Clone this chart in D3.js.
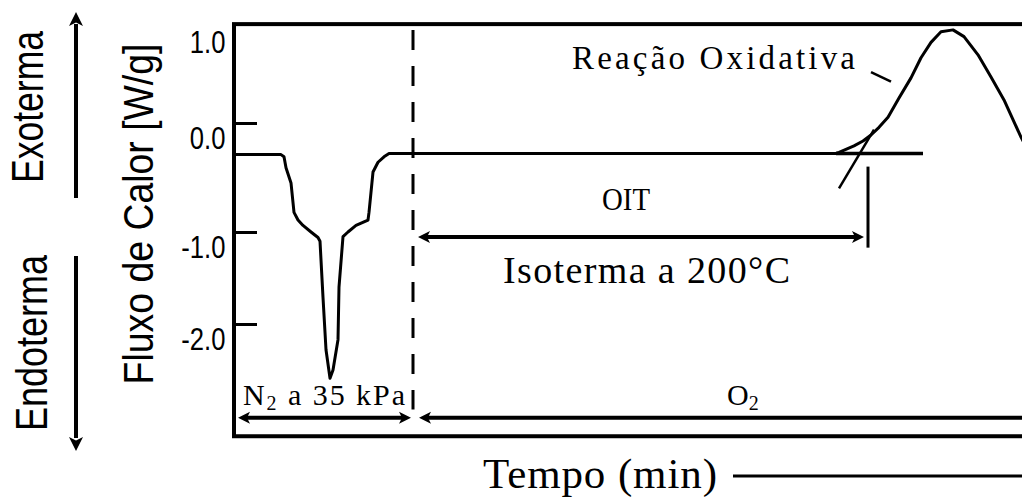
<!DOCTYPE html>
<html>
<head>
<meta charset="utf-8">
<script src="https://cdn.jsdelivr.net/npm/d3@7"></script>
<style>
  html, body { margin: 0; padding: 0; background: #fff; }
  svg { display: block; }
</style>
</head>
<body>
<svg id="chart" width="1022" height="499"></svg>
<script>
// ---- data (time in min, heat flow in W/g) ----
const dscTime = [0, 4.7, 5.0, 5.2, 5.7, 6.0, 6.4, 6.9, 7.7, 8.4, 8.6, 8.9, 9.2, 9.6, 9.9, 10.4, 10.5, 10.9, 11.4, 12.2, 13.4, 13.5, 13.9, 14.4, 15.0, 15.5,
                 60.2, 60.5, 62.0, 62.9, 63.7, 64.5, 65.4, 66.5, 67.7, 68.7, 69.7, 70.7, 71.9, 73.0, 74.4, 75.7, 77.0, 78.7, 80.2];
const dscFlow = [-0.29, -0.29, -0.31, -0.41, -0.55, -0.82, -0.89, -0.94, -1.0, -1.06, -1.1, -1.71, -2.28, -2.59, -2.50, -2.17, -1.60, -1.05, -1.0, -0.94, -0.89, -0.82, -0.45, -0.36, -0.31, -0.28,
                 -0.28, -0.27, -0.21, -0.165, -0.11, -0.04, 0.06, 0.26, 0.47, 0.68, 0.84, 0.95, 0.97, 0.90, 0.71, 0.48, 0.24, -0.13, -0.39];
const baselineExtTime = [60.2, 68.9];
const baselineExtFlow = [-0.28, -0.28];
const tangentTime = [60.5, 64.0];
const tangentFlow = [-0.60, -0.06];
const leaderTime = [63.7, 65.7];
const leaderFlow = [0.53, 0.43];
const oitMarkTime = 63.4;
const oitMarkFlow = [-0.40, -1.17];
const oitArrowTime = [18.4, 63.0];
const oitArrowFlow = -1.054;
const gasSwitchTime = 17.9;
const gasSwitchFlow = [0.97, -2.93];
const n2ArrowTime = [0.4, 17.7];
const o2ArrowTime = [18.5, 81];
const gasArrowFlow = -3.02;
const yTickValues = [1.0, 0.0, -1.0, -2.0];
const yTickLabels = ["1.0", "0.0", "-1.0", "-2.0"];
const frameTime = [0, 80];
const frameFlow = [1.03, -3.22];

// ---- scales ----
const x = d3.scaleLinear().domain([0, 80]).range([234, 1034]);
const y = d3.scaleLinear().domain([1, 0, -1, -2]).range([27, 123, 232, 324]);

const svg = d3.select("#chart");
svg.append("rect").attr("width", 1022).attr("height", 499).attr("fill", "#fff");

const serif = "'Liberation Serif', 'Times New Roman', serif";
const sans = "'Liberation Sans', Arial, sans-serif";

// ---- frame ----
svg.append("rect")
  .attr("x", x(frameTime[0])).attr("y", y(frameFlow[0]))
  .attr("width", x(frameTime[1]) - x(frameTime[0]))
  .attr("height", y(frameFlow[1]) - y(frameFlow[0]))
  .attr("fill", "none").attr("stroke", "#000").attr("stroke-width", 4);

// ---- y axis ticks (inside) ----
const yAxis = d3.axisLeft(y).tickValues(yTickValues)
  .tickSizeInner(-22).tickSizeOuter(0).tickPadding(9)
  .tickFormat((d, i) => yTickLabels[i]);
const gy = svg.append("g").attr("transform", `translate(${x(0) + 1},0)`).call(yAxis);
gy.select(".domain").remove();
gy.selectAll(".tick line").attr("stroke", "#000").attr("stroke-width", 3)
  .filter(d => d === 1).remove();
gy.selectAll(".tick text")
  .attr("font-family", sans).attr("font-size", 32).attr("fill", "#000")
  .attr("x", -12).attr("dy", 25)
  .attr("transform", "scale(0.8,1)");

// ---- arrow head helper ----
function head(tipX, tipY, dirX, dirY, len, half) {
  const bx = tipX - dirX * len, by = tipY - dirY * len;
  const px = -dirY * half, py = dirX * half;
  return `M${tipX},${tipY}L${bx + px},${by + py}L${bx + dirX * len * 0.25},${by + dirY * len * 0.25}L${bx - px},${by - py}Z`;
}

// ---- DSC curve ----
const line = d3.line().x(d => x(d[0])).y(d => y(d[1]));
svg.append("path").datum(dscTime.map((t, i) => [t, dscFlow[i]]))
  .attr("d", line).attr("fill", "none").attr("stroke", "#000")
  .attr("stroke-width", 3).attr("stroke-linejoin", "round");

// extrapolated baseline
svg.append("path").datum(baselineExtTime.map((t, i) => [t, baselineExtFlow[i]]))
  .attr("d", line).attr("fill", "none").attr("stroke", "#000").attr("stroke-width", 3.5);

// tangent
svg.append("path").datum(tangentTime.map((t, i) => [t, tangentFlow[i]]))
  .attr("d", line).attr("fill", "none").attr("stroke", "#000").attr("stroke-width", 2.5);

// leader line for label
svg.append("path").datum(leaderTime.map((t, i) => [t, leaderFlow[i]]))
  .attr("d", line).attr("fill", "none").attr("stroke", "#000").attr("stroke-width", 2.5);

// OIT marker
svg.append("line")
  .attr("x1", x(oitMarkTime)).attr("x2", x(oitMarkTime))
  .attr("y1", y(oitMarkFlow[0])).attr("y2", y(oitMarkFlow[1]))
  .attr("stroke", "#000").attr("stroke-width", 3);

// horizontal double/single arrows
function hArrow(t0, t1, v, leftHead, rightHead, w) {
  const yy = y(v), x0 = x(t0), x1 = x(t1);
  svg.append("line").attr("x1", x0 + (leftHead ? 6 : 0)).attr("x2", x1 - (rightHead ? 6 : 0))
    .attr("y1", yy).attr("y2", yy).attr("stroke", "#000").attr("stroke-width", w);
  if (leftHead) svg.append("path").attr("d", head(x0, yy, -1, 0, 12, 6)).attr("fill", "#000");
  if (rightHead) svg.append("path").attr("d", head(x1, yy, 1, 0, 12, 6)).attr("fill", "#000");
}
hArrow(oitArrowTime[0], oitArrowTime[1], oitArrowFlow, true, true, 4);
hArrow(n2ArrowTime[0], n2ArrowTime[1], gasArrowFlow, true, true, 4);
hArrow(o2ArrowTime[0], o2ArrowTime[1], gasArrowFlow, true, false, 4);

// gas switch dashed line
svg.append("line")
  .attr("x1", x(gasSwitchTime)).attr("x2", x(gasSwitchTime))
  .attr("y1", y(gasSwitchFlow[0])).attr("y2", y(gasSwitchFlow[1]))
  .attr("stroke", "#000").attr("stroke-width", 3).attr("stroke-dasharray", "20,16");

// ---- texts inside ----
function txt(s, tx, ty, size, len, adj) {
  return svg.append("text").attr("x", tx).attr("y", ty)
    .attr("font-family", serif).attr("font-size", size).attr("fill", "#000")
    .attr("textLength", len).attr("lengthAdjust", adj || "spacing").text(s);
}
txt("Reação Oxidativa", 572, 69, 33, 283);
txt("OIT", 602, 210, 32, 48, "spacingAndGlyphs");
txt("Isoterma a 200°C", 503, 283, 38, 287);

const n2 = svg.append("text").attr("x", 243).attr("y", 405)
  .attr("font-family", serif).attr("font-size", 30).attr("fill", "#000")
  .attr("textLength", 162).attr("lengthAdjust", "spacing");
n2.append("tspan").text("N");
n2.append("tspan").attr("font-size", 20).attr("dy", 5).text("2");
n2.append("tspan").attr("dy", -5).text(" a 35 kPa");

const o2 = svg.append("text").attr("x", 727).attr("y", 405)
  .attr("font-family", serif).attr("font-size", 30).attr("fill", "#000");
o2.append("tspan").text("O");
o2.append("tspan").attr("font-size", 20).attr("dy", 5).text("2");

// x axis title with arrow line
txt("Tempo (min)", 483, 488, 43, 234);
svg.append("line").attr("x1", 733).attr("x2", 1030).attr("y1", 476).attr("y2", 476)
  .attr("stroke", "#000").attr("stroke-width", 3);

// ---- left side labels ----
svg.append("text").attr("transform", "translate(153,214) rotate(-90) scale(0.87,1)")
  .attr("text-anchor", "middle").attr("font-family", sans).attr("font-size", 43)
  .attr("fill", "#000").text("Fluxo de Calor [W/g]");
svg.append("text").attr("transform", "translate(43,107) rotate(-90) scale(0.79,1)")
  .attr("text-anchor", "middle").attr("font-family", sans).attr("font-size", 45)
  .attr("fill", "#000").text("Exoterma");
svg.append("text").attr("transform", "translate(47,343) rotate(-90) scale(0.8,1)")
  .attr("text-anchor", "middle").attr("font-family", sans).attr("font-size", 45)
  .attr("fill", "#000").text("Endoterma");

// vertical exo / endo arrows
svg.append("line").attr("x1", 76).attr("x2", 76).attr("y1", 198).attr("y2", 24)
  .attr("stroke", "#000").attr("stroke-width", 4);
svg.append("path").attr("d", head(76, 12, 0, -1, 14, 7)).attr("fill", "#000");
svg.append("line").attr("x1", 76).attr("x2", 76).attr("y1", 256).attr("y2", 438)
  .attr("stroke", "#000").attr("stroke-width", 4);
svg.append("path").attr("d", head(76, 451, 0, 1, 14, 7)).attr("fill", "#000");
</script>
</body>
</html>
